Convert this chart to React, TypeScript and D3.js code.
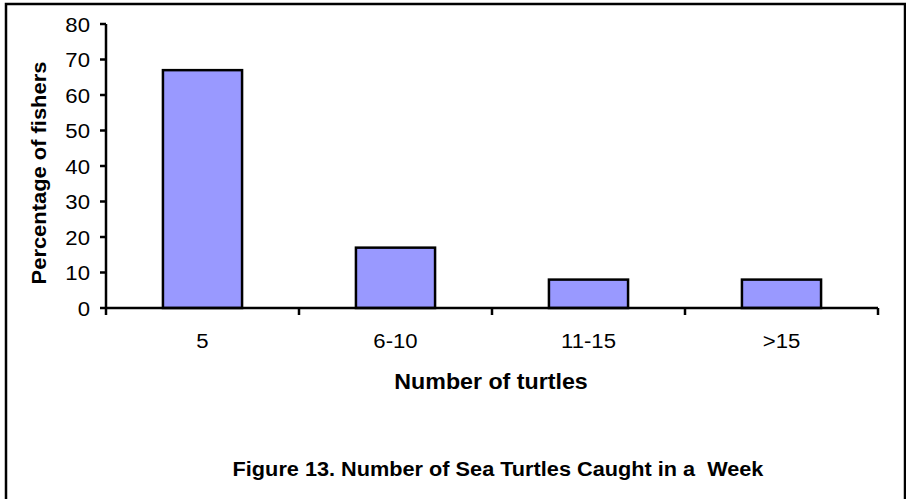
import { useEffect, useRef } from "react";
import * as d3 from "d3";

const W = 906;
const H = 499;
const M = { top: 24, right: 28, bottom: 191, left: 106 };

const categories = ["5", "6-10", "11-15", ">15"];
const values = [67, 17, 8, 8];
const yTicks = [0, 10, 20, 30, 40, 50, 60, 70, 80];

const FONT = "'Liberation Sans', Arial, Helvetica, sans-serif";
const STRETCH = 1.08;

export default function App() {
  const svgRef = useRef<SVGSVGElement>(null);

  useEffect(() => {
    if (!svgRef.current) return;
    const root = d3.select(svgRef.current);
    root.selectAll("*").remove();

    const innerW = W - M.left - M.right;
    const innerH = H - M.top - M.bottom;

    // outer frame (bottom edge falls outside the picture)
    root
      .append("rect")
      .attr("x", 6)
      .attr("y", 4)
      .attr("width", 899)
      .attr("height", 600)
      .attr("fill", "white")
      .attr("stroke", "black")
      .attr("stroke-width", 2.5);

    const g = root.append("g").attr("transform", `translate(${M.left},${M.top})`);

    const x = d3
      .scaleBand<string>()
      .domain(categories)
      .range([0, innerW])
      .paddingInner(0.59)
      .paddingOuter(0.295);
    const step = x.step();
    const y = d3.scaleLinear().domain([0, 80]).range([innerH, 0]);

    // bars
    g.selectAll("rect.bar")
      .data(values)
      .join("rect")
      .attr("class", "bar")
      .attr("x", (_, i) => x(categories[i])!)
      .attr("y", (d) => y(d))
      .attr("width", x.bandwidth())
      .attr("height", (d) => y(0) - y(d))
      .attr("fill", "#9999ff")
      .attr("stroke", "black")
      .attr("stroke-width", 2.5);

    // y axis
    g.append("line")
      .attr("x1", 0)
      .attr("x2", 0)
      .attr("y1", y(80))
      .attr("y2", y(0))
      .attr("stroke", "black")
      .attr("stroke-width", 2.5);
    yTicks.forEach((t) => {
      g.append("line")
        .attr("x1", -6)
        .attr("x2", 0)
        .attr("y1", y(t))
        .attr("y2", y(t))
        .attr("stroke", "black")
        .attr("stroke-width", 2.5);
      g.append("text")
        .attr("transform", `translate(-16,${y(t) + 7.5}) scale(${STRETCH},1)`)
        .attr("text-anchor", "end")
        .attr("font-family", FONT)
        .attr("font-size", 20.5)
        .attr("fill", "black")
        .text(t);
    });

    // x axis
    g.append("line")
      .attr("x1", 0)
      .attr("x2", innerW)
      .attr("y1", innerH)
      .attr("y2", innerH)
      .attr("stroke", "black")
      .attr("stroke-width", 2.5);
    d3.range(categories.length + 1).forEach((i) => {
      g.append("line")
        .attr("x1", i * step)
        .attr("x2", i * step)
        .attr("y1", innerH)
        .attr("y2", innerH + 7)
        .attr("stroke", "black")
        .attr("stroke-width", 2.5);
    });
    categories.forEach((c) => {
      g.append("text")
        .attr(
          "transform",
          `translate(${x(c)! + x.bandwidth() / 2},${innerH + 40}) scale(${STRETCH},1)`
        )
        .attr("text-anchor", "middle")
        .attr("font-family", FONT)
        .attr("font-size", 20.5)
        .attr("fill", "black")
        .text(c);
    });

    // axis titles
    g.append("text")
      .attr("transform", `translate(${innerW / 2 - 1},${innerH + 81}) scale(${STRETCH},1)`)
      .attr("text-anchor", "middle")
      .attr("font-family", FONT)
      .attr("font-size", 21.5)
      .attr("font-weight", "bold")
      .attr("fill", "black")
      .text("Number of turtles");

    root
      .append("text")
      .attr("transform", `translate(46,173) rotate(-90) scale(${STRETCH},1)`)
      .attr("text-anchor", "middle")
      .attr("font-family", FONT)
      .attr("font-size", 20.3)
      .attr("font-weight", "bold")
      .attr("fill", "black")
      .text("Percentage of fishers");

    // figure caption
    root
      .append("text")
      .attr("transform", `translate(498,476) scale(${STRETCH},1)`)
      .attr("text-anchor", "middle")
      .attr("font-family", FONT)
      .attr("font-size", 20.1)
      .attr("font-weight", "bold")
      .attr("fill", "black")
      .attr("xml:space", "preserve")
      .style("white-space", "pre")
      .text("Figure 13. Number of Sea Turtles Caught in a  Week");
  }, []);

  return (
    <svg
      ref={svgRef}
      width={W}
      height={H}
      viewBox={`0 0 ${W} ${H}`}
      style={{ position: "absolute", left: 0, top: 0, background: "white" }}
    />
  );
}
